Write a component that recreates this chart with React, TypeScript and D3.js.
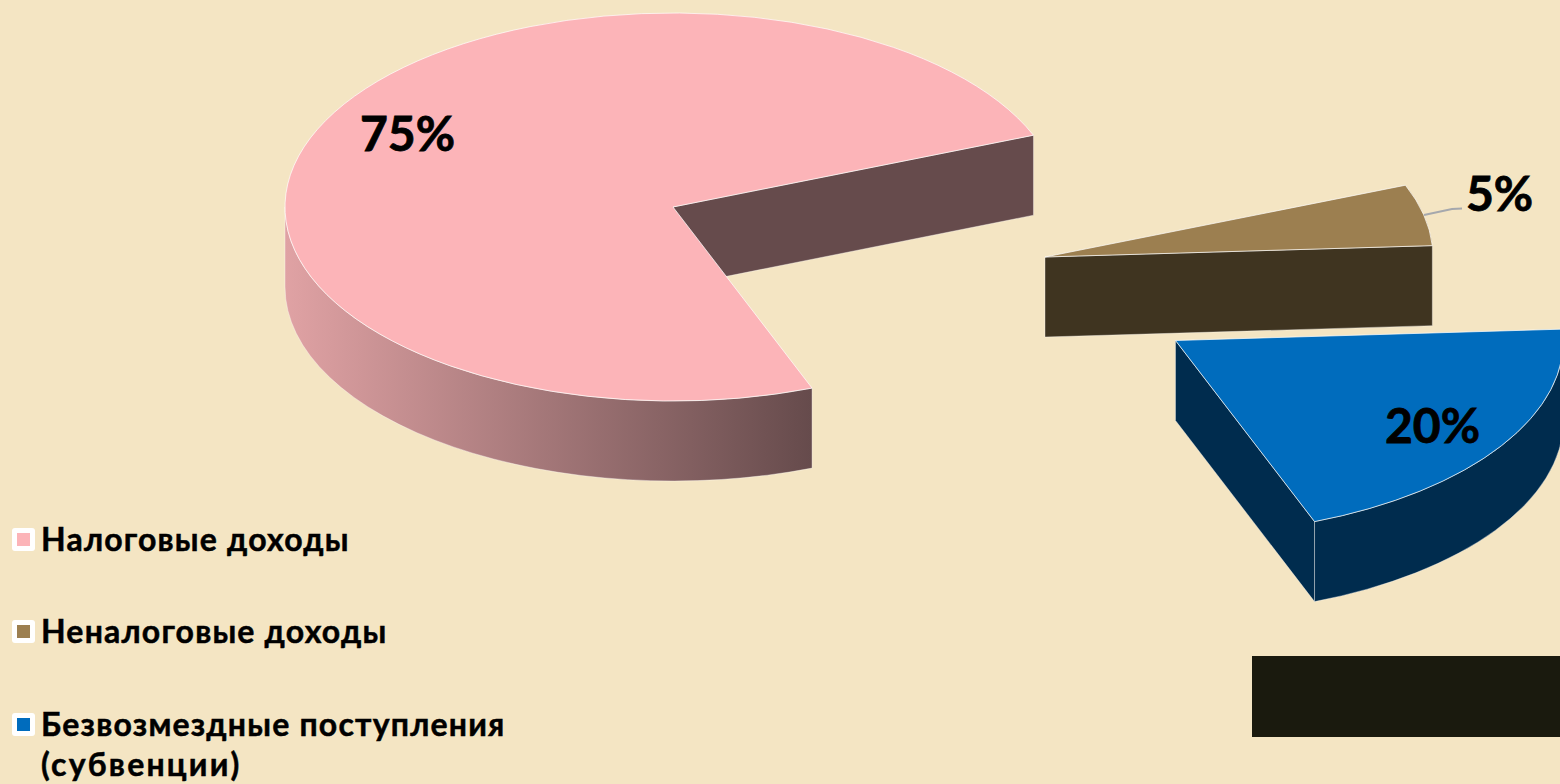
import * as d3 from "d3"

const categories = ["Налоговые доходы", "Неналоговые доходы", "Безвозмездные поступления"]
const legendExtra = ["", "", "(субвенции)"]
// подписи на диаграмме округлены до целых, сами доли оценены по углам секторов
const shares = [74.8, 5.1, 20.1]

const topColors = ["#fcb4b8", "#9c7f50", "#006cbd"]
const wallColors = ["#664b4c", "#3f3420", "#002c4e"]
const centers = [[673, 207], [1045, 257], [1175.5, 340.5]]
const labelPos = [[360, 151], [1466, 211], [1385, 443]]
const legendY = [528, 620, 713]

const W = 1560
const H = 784
const RX = 388
const RY = 194
const DEPTH = 80
const FONT = "Lato, 'Open Sans', sans-serif"
const startDeg = 159
const TAU = 2 * Math.PI

const toRad = (d: number) => (d * Math.PI) / 180
const rim = (c: number[], a: number) => [c[0] + RX * Math.sin(a), c[1] - RY * Math.cos(a)]
const pct = d3.format(".0f")

export default function App() {
  const slices = d3
    .pie<number>()
    .sort(null)
    .startAngle(toRad(startDeg))
    .endAngle(toRad(startDeg + 360))(shares)
    .map((s) => {
      // приводим к 0..2pi, чтобы считать видимую часть стенки
      const shift = s.startAngle >= TAU ? TAU : 0
      return { ...s, startAngle: s.startAngle - shift, endAngle: s.endAngle - shift }
    })

  const arc = d3.arc<d3.PieArcDatum<number>>().innerRadius(0).outerRadius(RX)

  // боковая стенка от центра до края сектора
  const sideWall = (c: number[], a: number) => {
    const p = rim(c, a)
    return `M${c[0]},${c[1]}L${p[0]},${p[1]}L${p[0]},${p[1] + DEPTH}L${c[0]},${c[1] + DEPTH}Z`
  }

  // внешняя стенка, видна только в нижней половине эллипса
  const outerWall = (c: number[], a0: number, a1: number) => {
    const from = Math.max(a0, Math.PI / 2)
    const to = Math.min(a1, (3 * Math.PI) / 2)
    if (to <= from) return null
    const p0 = rim(c, from)
    const p1 = rim(c, to)
    return (
      `M${p0[0]},${p0[1]}A${RX},${RY} 0 0 1 ${p1[0]},${p1[1]}` +
      `L${p1[0]},${p1[1] + DEPTH}A${RX},${RY} 0 0 0 ${p0[0]},${p0[1] + DEPTH}Z`
    )
  }

  return (
    <svg
      width={W}
      height={H}
      viewBox={`0 0 ${W} ${H}`}
      style={{ position: "fixed", left: 0, top: 0, display: "block", background: "#f4e5c3" }}
    >
      <defs>
        <linearGradient id="wallMain" gradientUnits="userSpaceOnUse" x1={285} x2={811} y1={0} y2={0}>
          <stop offset="0" stopColor="#e0a2a4" />
          <stop offset="1" stopColor="#664b4c" />
        </linearGradient>
      </defs>

      {slices.map((s, i) => {
        const c = centers[i]
        const outer = outerWall(c, s.startAngle, s.endAngle)
        return (
          <g key={categories[i]}>
            <path d={sideWall(c, s.endAngle)} fill={wallColors[i]} stroke="#fff" strokeOpacity={0.45} strokeWidth={0.8} />
            {outer && (
              <path
                d={outer}
                fill={i === 0 ? "url(#wallMain)" : wallColors[i]}
                stroke="#fff"
                strokeOpacity={0.45}
                strokeWidth={0.8}
              />
            )}
            <path
              d={arc(s) as string}
              transform={`translate(${c[0]},${c[1]}) scale(1,${RY / RX})`}
              fill={topColors[i]}
              stroke="#fff"
              strokeOpacity={0.7}
              strokeWidth={1}
              vectorEffect="non-scaling-stroke"
            />
          </g>
        )
      })}

      {/* выноска для 5% */}
      <path d="M1424,215L1452,209L1462,208.5" fill="none" stroke="#a5a8ad" strokeWidth={2} />

      {shares.map((v, i) => (
        <text
          key={i}
          x={labelPos[i][0]}
          y={labelPos[i][1]}
          fontFamily={FONT}
          fontWeight={700}
          fontSize={48}
          stroke="#000"
          strokeWidth={0.8}
          fill="#000"
        >
          {pct(v)}%
        </text>
      ))}

      {/* тёмный прямоугольник внизу справа */}
      <rect x={1252} y={656} width={308} height={81} fill="#1a1a0e" />

      {categories.map((name, i) => (
        <g key={name}>
          <rect x={12} y={legendY[i]} width={23} height={23} rx={3} fill="#fff" />
          <rect x={17} y={legendY[i] + 5} width={13} height={13} fill={topColors[i]} />
          <text
            x={41}
            y={legendY[i] + 23}
            fontFamily={FONT}
            fontWeight={700}
            fontSize={32}
            letterSpacing={1.2}
            stroke="#000"
            strokeWidth={0.5}
            fill="#000"
          >
            {name}
          </text>
          {legendExtra[i] && (
            <text
              x={41}
              y={legendY[i] + 63}
              fontFamily={FONT}
              fontWeight={700}
              fontSize={32}
              letterSpacing={2.2}
              stroke="#000"
              strokeWidth={0.5}
              fill="#000"
            >
              {legendExtra[i]}
            </text>
          )}
        </g>
      ))}
    </svg>
  )
}
